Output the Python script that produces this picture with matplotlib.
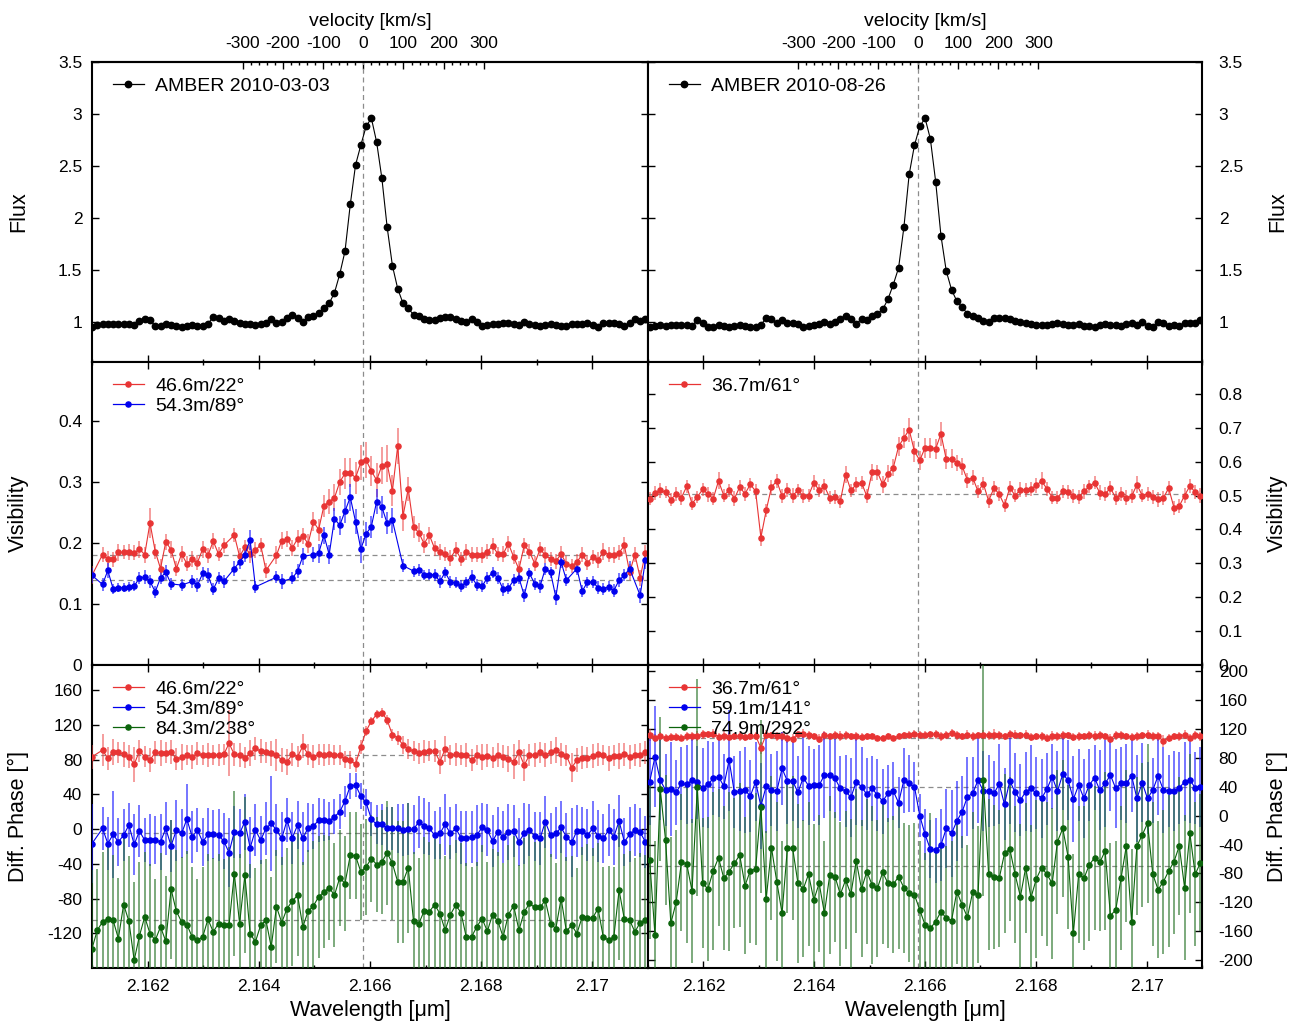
import numpy as np
import matplotlib
matplotlib.use('Agg')
import matplotlib.pyplot as plt
from matplotlib.ticker import FixedLocator, MultipleLocator, FormatStrFormatter
from matplotlib.lines import Line2D

plt.rcParams['font.family'] = ['Liberation Sans', 'DejaVu Sans']
plt.rcParams['axes.unicode_minus'] = False

# spectral channels (micron) for the two epochs
lam_a = 2.16100 + 0.0000948 * np.arange(106)
lam_b = 2.16103 + 0.0000956 * np.arange(105)
lam0 = 2.16588          # Br gamma rest wavelength used for the velocity scale
c_kms = 299792.458

# ---- 2010-03-03 ----
flux_a = [0.95, 0.97, 0.98, 0.98, 0.98, 0.98, 0.98, 0.98, 0.97, 1.01,
          1.03, 1.02, 0.96, 0.96, 0.98, 0.97, 0.96, 0.95, 0.96, 0.97,
          0.96, 0.96, 0.98, 1.05, 1.04, 1.01, 1.03, 1.01, 0.99, 0.98,
          0.98, 0.97, 0.98, 0.99, 1.03, 0.99, 1.00, 1.04, 1.07, 1.04,
          1.00, 1.05, 1.06, 1.09, 1.13, 1.18, 1.28, 1.46, 1.68, 2.13,
          2.51, 2.70, 2.88, 2.96, 2.73, 2.38, 1.91, 1.54, 1.32, 1.18,
          1.13, 1.07, 1.06, 1.03, 1.02, 1.02, 1.04, 1.05, 1.05, 1.03,
          1.01, 1.00, 1.03, 1.00, 0.96, 0.97, 0.98, 0.98, 0.99, 0.99,
          0.98, 0.97, 1.00, 0.98, 0.97, 0.96, 0.97, 0.98, 0.97, 0.96,
          0.96, 0.98, 0.98, 0.98, 0.99, 0.97, 0.95, 0.99, 0.99, 0.99,
          0.98, 0.96, 0.99, 1.03, 1.01, 1.03]

vis_a1 = [0.147, None, 0.181, 0.174, 0.173, 0.185, 0.185, 0.185, 0.184, 0.190,
          0.181, 0.233, 0.186, 0.158, 0.202, 0.189, 0.158, 0.182, 0.166, 0.174,
          0.168, 0.190, 0.180, 0.203, 0.182, 0.196, None, 0.213, 0.178, 0.193,
          0.182, 0.188, 0.197, 0.155, None, 0.180, 0.204, 0.207, 0.192, 0.207,
          0.211, 0.199, 0.235, 0.222, 0.261, 0.268, 0.274, 0.300, 0.314, 0.315,
          0.307, 0.332, 0.336, 0.318, 0.303, 0.327, 0.330, 0.286, 0.359, 0.244,
          0.289, 0.226, 0.217, 0.199, 0.213, 0.191, 0.185, 0.182, 0.175, 0.189,
          0.174, 0.185, 0.181, 0.181, 0.181, 0.186, 0.195, 0.182, 0.182, 0.199,
          0.177, 0.157, 0.196, 0.186, 0.166, 0.190, 0.180, 0.174, 0.170, 0.182,
          0.166, 0.162, 0.169, 0.181, 0.168, 0.177, 0.172, 0.186, 0.181, 0.181,
          0.184, 0.196, 0.152, 0.181, 0.143, 0.184]
vis_a1_err = [0.015, 0.012, 0.012, 0.013, 0.012, 0.014, 0.012, 0.013, 0.012, 0.014,
              0.013, 0.025, 0.012, 0.015, 0.013, 0.014, 0.012, 0.013, 0.012, 0.013,
              0.012, 0.014, 0.012, 0.013, 0.012, 0.012, 0.012, 0.012, 0.013, 0.012,
              0.014, 0.013, 0.012, 0.013, 0.012, 0.015, 0.014, 0.013, 0.013, 0.014,
              0.013, 0.015, 0.016, 0.018, 0.018, 0.020, 0.022, 0.022, 0.025, 0.024,
              0.026, 0.028, 0.030, 0.025, 0.028, 0.030, 0.030, 0.025, 0.030, 0.025,
              0.020, 0.018, 0.016, 0.015, 0.014, 0.013, 0.013, 0.012, 0.013, 0.012,
              0.012, 0.013, 0.012, 0.012, 0.013, 0.012, 0.013, 0.012, 0.013, 0.013,
              0.012, 0.013, 0.012, 0.013, 0.012, 0.012, 0.013, 0.012, 0.012, 0.013,
              0.012, 0.012, 0.013, 0.012, 0.013, 0.012, 0.013, 0.014, 0.012, 0.013,
              0.012, 0.014, 0.013, 0.012, 0.013, 0.012]

vis_a2 = [0.147, None, 0.132, 0.155, 0.125, 0.127, 0.127, 0.128, 0.129, 0.143,
          0.144, 0.137, 0.120, 0.143, 0.152, 0.133, None, 0.131, None, 0.137,
          0.131, 0.150, 0.147, 0.124, 0.142, 0.137, None, 0.158, 0.169, 0.181,
          0.205, 0.128, None, None, None, 0.144, 0.137, None, 0.142, 0.154,
          0.178, None, 0.181, 0.183, 0.213, 0.181, 0.240, 0.229, 0.252, 0.275,
          0.235, 0.190, 0.215, 0.227, 0.268, 0.259, 0.232, 0.237, None, 0.163,
          None, 0.154, 0.156, 0.148, 0.148, 0.148, 0.137, 0.152, 0.136, 0.135,
          0.129, 0.136, 0.145, 0.131, 0.129, 0.143, 0.151, 0.143, 0.124, 0.126,
          0.139, 0.143, 0.114, 0.150, 0.133, 0.129, 0.158, 0.152, 0.111, 0.169,
          0.139, None, 0.158, 0.121, 0.136, 0.136, 0.127, 0.125, 0.128, 0.122,
          0.139, 0.147, 0.158, None, 0.114, 0.172]
vis_a2_err = [0.012, 0.010, 0.010, 0.012, 0.008, 0.008, 0.008, 0.008, 0.008, 0.010,
              0.012, 0.010, 0.010, 0.010, 0.012, 0.010, 0.010, 0.010, 0.010, 0.010,
              0.012, 0.010, 0.012, 0.010, 0.010, 0.010, 0.010, 0.012, 0.012, 0.012,
              0.017, 0.010, 0.010, 0.010, 0.010, 0.010, 0.012, 0.010, 0.010, 0.012,
              0.014, 0.012, 0.012, 0.015, 0.014, 0.015, 0.018, 0.016, 0.020, 0.022,
              0.020, 0.022, 0.020, 0.018, 0.020, 0.018, 0.018, 0.020, 0.010, 0.010,
              0.010, 0.009, 0.010, 0.008, 0.009, 0.010, 0.011, 0.009, 0.010, 0.009,
              0.010, 0.009, 0.011, 0.010, 0.009, 0.010, 0.009, 0.010, 0.011, 0.009,
              0.010, 0.011, 0.010, 0.009, 0.010, 0.011, 0.010, 0.009, 0.012, 0.010,
              0.010, 0.009, 0.011, 0.010, 0.009, 0.010, 0.011, 0.010, 0.009, 0.010,
              0.011, 0.010, 0.012, 0.010, 0.012, 0.014]

dp_a1 = [83.3, None, 91.0, 81.4, 89.1, 88.3, 86.0, 83.3, 74.5, 89.9,
         83.3, 79.5, 88.3, 87.2, 87.9, 89.1, 80.6, 82.6, 85.3, 83.3,
         87.2, 85.3, 85.3, 85.3, 85.3, 86.0, 98.7, 86.0, 85.3, 82.2,
         87.2, 92.9, 89.9, 88.3, 87.2, 85.3, 79.5, 77.6, 86.0, 83.3,
         95.6, 86.0, 83.3, 86.0, 85.3, 86.0, 85.3, 85.3, 80.3, 79.5,
         74.5, 94.9, 112.9, 124.4, 132.1, 134.1, 125.6, 108.3, 105.2, 96.8,
         92.2, 89.9, 87.2, 89.1, 89.9, 89.9, 77.6, 92.2, 85.3, 86.0,
         85.3, 85.3, 79.5, 85.3, 83.3, 84.5, 82.2, 85.3, 83.3, 80.3,
         77.6, 88.3, 73.7, 85.3, 85.3, 88.3, 85.3, 88.3, 91.0, 86.0,
         84.5, 70.7, 79.5, 82.2, 82.2, 84.5, 86.0, 85.3, 81.4, 84.5,
         84.5, 86.0, 83.3, 85.3, 85.3, 88.3]
dp_a1_err = [14, 12, 18, 13, 15, 12, 14, 13, 20, 13,
             12, 14, 13, 15, 12, 14, 13, 15, 12, 14,
             13, 12, 14, 12, 13, 12, 38, 13, 14, 12,
             15, 13, 14, 12, 14, 18, 14, 15, 13, 12,
             14, 12, 13, 12, 13, 12, 12, 11, 10, 10,
             9, 8, 6, 5, 5, 5, 6, 7, 8, 10,
             11, 12, 12, 13, 12, 13, 14, 15, 12, 13,
             12, 14, 13, 12, 15, 13, 12, 14, 13, 15,
             20, 14, 18, 13, 14, 12, 14, 13, 15, 13,
             12, 17, 14, 13, 12, 14, 13, 12, 14, 12,
             15, 13, 14, 13, 14, 13]

dp_a2 = [-16.6, None, 0.7, -16.6, -6.2, -14.7, -7.0, 4.6, -17.7, -2.4,
         -12.7, -12.7, -12.7, -14.7, 0.7, -19.3, -1.2, -5.0, 11.5, -8.9,
         -1.2, -14.7, -6.2, -6.2, -7.0, -13.9, -27.0, -3.1, -5.0, 8.4,
         -21.6, -1.2, -12.7, 0.7, 6.5, -1.2, -10.8, 10.3, -10.0, 4.6,
         -10.8, 1.5, 3.4, 10.3, 10.3, 9.2, 14.2, 19.9, 32.2, 49.9,
         50.7, 38.0, 30.7, 11.5, 5.3, 5.3, 0.7, 0.7, 0.7, -1.2,
         -0.4, -0.4, 8.4, 3.4, 0.7, -7.0, -5.0, 5.3, -5.0, 0.7,
         -9.7, -10.8, -8.9, -7.0, 1.9, -1.2, -13.9, -3.1, -8.9, -3.1,
         -2.4, -14.7, -5.0, -1.2, -8.2, -10.8, 8.4, -7.0, -5.0, 1.9,
         -8.9, -15.4, -2.0, -2.0, -7.0, 0.7, -7.7, -10.8, -1.2, -8.9,
         9.2, -14.7, -6.2, -1.2, -3.9, -14.7]
dp_a2_err = [45, 30, 25, 30, 50, 28, 30, 25, 35, 30,
             25, 30, 28, 32, 30, 30, 35, 28, 40, 30,
             25, 28, 30, 28, 30, 32, 40, 30, 28, 32,
             35, 30, 28, 30, 55, 30, 30, 25, 30, 28,
             30, 28, 26, 25, 24, 22, 20, 20, 18, 15,
             14, 15, 16, 20, 22, 24, 25, 25, 28, 30,
             30, 28, 30, 32, 30, 28, 30, 35, 30, 28,
             30, 32, 30, 35, 28, 30, 30, 28, 30, 32,
             30, 28, 35, 30, 28, 30, 30, 25, 30, 30,
             28, 40, 30, 28, 30, 32, 30, 28, 30, 32,
             30, 28, 32, 30, 28, 30]

dp_a3 = [-137.6, -116.5, -106.9, -103.0, -104.9, -126.1, -86.9, -106.1, -151.1, -123.0,
         -101.1, -120.3, -128.0, -112.6, -129.2, -69.2, -94.6, -106.9, -110.0, -124.2,
         -128.0, -124.2, -103.8, -118.4, -108.8, -110.0, -110.7, -51.2, -108.8, -53.1,
         -120.3, -129.9, -110.7, -104.9, -135.7, -89.6, -107.6, -91.5, -83.0, -76.1,
         -112.6, -94.6, -88.4, -78.1, -72.3, -67.7, -76.1, -56.1, -62.7, -30.0,
         -30.8, -49.2, -43.5, -33.9, -40.8, -37.7, -27.3, -39.6, -60.8, -60.8,
         -44.6, -106.1, -108.8, -94.6, -95.3, -86.9, -97.3, -116.5, -98.4, -87.7,
         -96.1, -124.2, -124.2, -112.6, -103.0, -117.6, -98.4, -106.1, -124.2, -98.4,
         -88.4, -116.5, -95.3, -85.7, -90.3, -90.3, -81.9, -108.8, -114.6, -80.0,
         -117.6, -110.7, -120.3, -101.1, -102.3, -102.3, -91.5, -124.2, -128.0, -124.2,
         -70.4, -103.8, -104.9, -118.4, -107.6, -105.0]
dp_a3_err = [90, 70, 80, 85, 75, 70, 80, 75, 90, 85,
             75, 80, 70, 85, 75, 80, 70, 75, 85, 80,
             70, 80, 75, 85, 80, 75, 90, 95, 80, 90,
             80, 85, 75, 70, 80, 65, 75, 70, 75, 70,
             75, 70, 75, 70, 65, 60, 60, 55, 55, 50,
             50, 55, 55, 50, 55, 60, 60, 65, 70, 70,
             75, 80, 75, 85, 80, 75, 80, 85, 80, 75,
             80, 85, 80, 75, 85, 80, 75, 80, 85, 80,
             80, 75, 85, 80, 75, 80, 85, 80, 75, 80,
             85, 80, 75, 80, 85, 80, 75, 80, 85, 80,
             80, 75, 80, 85, 80, 75]

# ---- 2010-08-26 ----
flux_b = [0.95, 0.96, 0.97, 0.96, 0.97, 0.97, 0.97, 0.97, 0.96, 1.02,
          0.99, 0.95, 0.95, 0.97, 0.96, 0.95, 0.96, 0.97, 0.96, 0.95,
          0.95, 0.97, 1.04, 1.03, 0.99, 1.02, 0.99, 0.99, 0.98, 0.95,
          0.96, 0.97, 0.98, 1.00, 0.98, 1.00, 1.03, 1.06, 1.03, 0.98,
          1.03, 1.02, 1.06, 1.08, 1.12, 1.22, 1.36, 1.52, 1.91, 2.42,
          2.70, 2.88, 2.96, 2.76, 2.35, 1.83, 1.49, 1.31, 1.20, 1.14,
          1.08, 1.06, 1.04, 1.01, 1.00, 1.04, 1.04, 1.04, 1.03, 1.01,
          1.00, 0.99, 0.98, 0.97, 0.97, 0.97, 0.98, 0.99, 0.98, 0.97,
          0.97, 0.98, 0.96, 0.96, 0.95, 0.97, 0.98, 0.97, 0.97, 0.96,
          0.98, 0.99, 0.97, 1.00, 0.96, 0.95, 1.00, 0.99, 0.96, 0.97,
          0.96, 0.99, 0.99, 0.99, 1.02]

vis_b1 = [0.491, 0.507, 0.515, 0.510, 0.488, 0.505, 0.494, 0.527, 0.476, 0.496,
          0.518, 0.504, 0.491, 0.543, 0.500, 0.515, 0.491, 0.525, 0.505, 0.533,
          0.513, 0.376, 0.456, 0.525, 0.543, 0.498, 0.517, 0.500, 0.515, 0.499,
          0.500, 0.538, 0.515, 0.527, 0.494, 0.496, 0.483, 0.562, 0.515, 0.533,
          0.538, 0.498, 0.569, 0.569, 0.533, 0.564, 0.582, 0.645, 0.670, 0.694,
          0.630, 0.604, 0.641, 0.641, 0.638, 0.682, 0.607, 0.609, 0.596, 0.587,
          0.545, 0.553, 0.512, 0.535, 0.484, 0.522, 0.504, 0.471, 0.523, 0.500,
          0.517, 0.517, 0.520, 0.530, 0.543, 0.520, 0.494, 0.494, 0.512, 0.510,
          0.499, 0.496, 0.512, 0.527, 0.538, 0.508, 0.505, 0.522, 0.493, 0.504,
          0.493, 0.498, 0.532, 0.500, 0.505, 0.496, 0.489, 0.493, 0.522, 0.464,
          0.469, 0.500, 0.528, 0.510, 0.500]
vis_b1_err = [0.020, 0.020, 0.022, 0.018, 0.020, 0.020, 0.022, 0.020, 0.020, 0.018,
              0.020, 0.022, 0.020, 0.025, 0.020, 0.020, 0.022, 0.020, 0.020, 0.020,
              0.022, 0.025, 0.020, 0.022, 0.020, 0.020, 0.020, 0.022, 0.020, 0.020,
              0.020, 0.022, 0.020, 0.022, 0.020, 0.020, 0.020, 0.025, 0.020, 0.022,
              0.020, 0.020, 0.025, 0.022, 0.025, 0.025, 0.025, 0.028, 0.030, 0.035,
              0.030, 0.028, 0.030, 0.030, 0.030, 0.035, 0.030, 0.028, 0.025, 0.025,
              0.022, 0.022, 0.020, 0.020, 0.022, 0.020, 0.020, 0.020, 0.020, 0.020,
              0.022, 0.020, 0.020, 0.022, 0.025, 0.020, 0.020, 0.018, 0.020, 0.020,
              0.020, 0.020, 0.022, 0.020, 0.020, 0.022, 0.020, 0.020, 0.020, 0.020,
              0.022, 0.020, 0.025, 0.020, 0.020, 0.020, 0.022, 0.020, 0.020, 0.020,
              0.020, 0.022, 0.020, 0.020, 0.022]

dp_b1 = [111.7, 108.0, 110.3, 108.0, 109.4, 109.4, 108.0, 110.3, 110.3, 110.8,
         113.1, 113.1, 114.0, 109.4, 110.3, 109.4, 110.3, 110.3, 109.4, 110.3,
         110.8, 94.2, 112.6, 111.7, 110.3, 110.3, 108.0, 107.1, 113.1, 114.0,
         111.7, 110.3, 107.1, 111.7, 110.3, 111.7, 110.3, 111.7, 110.3, 110.3,
         109.4, 110.3, 110.3, 108.0, 108.0, 110.3, 108.0, 110.3, 111.7, 112.6,
         114.0, 112.6, 112.6, 113.1, 113.1, 110.3, 112.6, 114.9, 111.7, 110.3,
         112.6, 110.3, 111.7, 112.6, 111.7, 112.6, 111.7, 110.3, 113.1, 112.6,
         111.7, 112.6, 109.4, 110.3, 110.3, 108.0, 110.3, 110.3, 111.7, 111.7,
         109.4, 110.3, 110.3, 111.7, 110.3, 111.7, 110.3, 107.1, 111.7, 111.7,
         110.3, 109.4, 110.3, 111.7, 112.6, 110.3, 110.3, 103.4, 108.0, 110.3,
         110.3, 112.6, 108.0, 111.7, 110.0]
dp_b1_err = [8, 6, 6, 5, 6, 6, 5, 6, 6, 7,
             6, 5, 6, 6, 7, 6, 5, 6, 6, 5,
             6, 8, 6, 5, 6, 6, 7, 6, 5, 6,
             6, 5, 6, 6, 5, 6, 7, 6, 5, 6,
             5, 5, 4, 4, 4, 4, 4, 4, 4, 5,
             5, 5, 5, 5, 6, 6, 5, 6, 6, 5,
             6, 6, 5, 6, 6, 7, 6, 5, 6, 6,
             5, 6, 6, 5, 6, 6, 7, 6, 6, 5,
             6, 6, 5, 6, 7, 6, 5, 6, 6, 6,
             5, 6, 6, 5, 6, 6, 6, 8, 6, 5,
             6, 6, 5, 6, 6]

dp_b2 = [47.1, 81.7, 49.4, 35.6, 37.0, 32.4, 44.8, 43.4, 49.4, 46.2,
         38.8, 43.4, 51.7, 54.0, 41.1, 77.1, 32.4, 34.2, 35.6, 27.3,
         47.1, 13.4, 41.1, 35.6, 34.2, 65.6, 48.1, 48.1, 32.4, 52.7,
         41.6, 42.5, 42.5, 56.4, 56.4, 51.7, 37.9, 34.2, 25.4, 47.1,
         40.2, 29.6, 37.9, 28.7, 20.4, 31.0, 34.2, 18.1, 49.4, 44.8,
         40.2, 0.1, -25.8, -46.5, -47.5, -40.5, -17.5, -24.4, -7.3, 5.6,
         26.4, 31.0, 49.4, 34.2, 34.2, 31.0, 43.9, 15.8, 48.5, 32.4,
         21.7, 33.3, 37.9, 31.0, 24.1, 37.0, 54.0, 34.2, 57.7, 49.4,
         23.1, 42.5, 24.1, 42.5, 52.7, 35.6, 44.8, 56.4, 37.9, 44.8,
         44.8, 55.4, 24.1, 45.7, 24.1, 35.6, 55.4, 35.6, 34.2, 34.2,
         38.8, 47.1, 49.4, 38.8, 40.0]
dp_b2_err = [60, 70, 55, 50, 65, 45, 50, 55, 60, 50,
             55, 60, 50, 55, 45, 70, 50, 55, 60, 50,
             55, 60, 65, 50, 55, 50, 60, 55, 50, 60,
             55, 50, 55, 60, 50, 55, 45, 50, 55, 60,
             55, 50, 45, 50, 45, 40, 40, 35, 45, 40,
             35, 30, 35, 40, 45, 50, 55, 60, 55, 50,
             55, 50, 60, 55, 50, 45, 55, 50, 60, 55,
             50, 55, 60, 50, 55, 50, 45, 55, 50, 55,
             60, 50, 55, 50, 45, 55, 60, 50, 55, 50,
             55, 50, 60, 55, 50, 45, 55, 60, 50, 55,
             50, 55, 60, 50, 55]

dp_b3 = [-61.3, -165.1, 37.0, -33.6, -149.0, -119.9, -64.5, -66.8, -104.2, 39.3,
         -93.6, -101.4, -76.5, -58.1, -86.7, -77.4, -65.9, -54.4, -96.8, -76.1,
         -73.8, 12.5, -115.7, -44.2, -91.3, -135.1, -45.1, -45.1, -93.6, -101.4,
         -81.1, -116.7, -93.6, -135.1, -82.1, -84.4, -108.8, -89.0, -108.8, -62.7,
         -101.4, -77.4, -95.9, -100.5, -78.4, -93.6, -95.0, -84.4, -99.6, -107.4,
         -109.7, -130.5, -151.3, -155.9, -146.6, -132.8, -142.0, -145.3, -105.1, -123.6,
         -140.7, -105.1, -109.7, 49.4, -81.1, -84.4, -86.7, -52.1, -46.1, -81.1,
         -112.0, -71.9, -113.4, -87.6, -71.9, -81.1, -93.6, -35.9, -17.5, -56.7,
         -162.8, -81.1, -86.7, -68.2, -58.1, -64.5, -48.8, -138.3, -130.5, -86.7,
         -41.9, -146.6, -41.9, -26.7, -10.5, -81.1, -102.3, -91.3, -76.5, -63.6,
         -41.9, -99.6, -24.4, -81.1, -65.0]
dp_b3_err = [110, 130, 100, 90, 120, 100, 95, 110, 100, 150,
             90, 100, 110, 95, 100, 110, 90, 100, 95, 100,
             105, 120, 95, 100, 110, 100, 90, 100, 110, 95,
             100, 105, 95, 100, 110, 90, 100, 95, 105, 100,
             95, 100, 110, 95, 100, 90, 95, 100, 90, 95,
             100, 95, 100, 160, 100, 95, 100, 110, 100, 95,
             100, 110, 95, 160, 105, 100, 95, 110, 100, 95,
             100, 90, 100, 110, 95, 100, 105, 100, 95, 100,
             110, 95, 100, 105, 100, 95, 110, 100, 95, 100,
             105, 100, 95, 100, 110, 100, 95, 100, 105, 100,
             95, 100, 110, 100, 95]

# continuum reference levels (dashed)
ref_vis_a = [0.18, 0.14]
ref_vis_b = [0.505]
ref_dp_a = [85, -5, -105]
ref_dp_b = [108, 40, -70]

labels_a = ['46.6m/22\u00b0', '54.3m/89\u00b0', '84.3m/238\u00b0']
labels_b = ['36.7m/61\u00b0', '59.1m/141\u00b0', '74.9m/292\u00b0']

RED, RED_E = '#e83434', (0.93, 0.25, 0.25, 0.6)
BLUE, BLUE_E = '#0000ee', (0.1, 0.1, 1.0, 0.7)
GREEN, GREEN_E = '#0b640b', (0.15, 0.45, 0.15, 0.7)
DASH = dict(color='0.55', ls=(0, (4, 3)), lw=0.9, zorder=1)

W, H = 1296, 1024
fig = plt.figure(figsize=(W / 100, H / 100), dpi=100)


def box(x0, y0, x1, y1):
    return [x0 / W, 1 - y1 / H, (x1 - x0) / W, (y1 - y0) / H]


def style(ax, side, top=True, xlabels=False):
    ax.set_xlim(2.161, 2.171)
    ax.xaxis.set_major_locator(MultipleLocator(0.002))
    ax.xaxis.set_minor_locator(MultipleLocator(0.001))
    ax.xaxis.set_major_formatter(FormatStrFormatter('%g'))
    ax.yaxis.set_major_formatter(FormatStrFormatter('%g'))
    ax.tick_params(which='both', direction='in', top=top, bottom=True,
                   left=True, right=True, labelbottom=xlabels,
                   labelleft=(side == 'left'), labelright=(side == 'right'),
                   labelsize=12.5, width=1.0)
    ax.tick_params(which='major', length=5)
    ax.tick_params(which='minor', length=2.5)
    ax.tick_params(axis='y', which='both', pad=12 if side == 'right' else 7)
    ax.tick_params(axis='x', which='both', pad=8)
    for sp in ax.spines.values():
        sp.set_linewidth(1.5)
    if side == 'right':
        ax.yaxis.set_label_position('right')


def ylab(ax, text, side):
    ax.set_ylabel(text, fontsize=15.5)
    if side == 'left':
        ax.yaxis.set_label_coords(-0.113, 0.5)
    else:
        ax.yaxis.set_label_coords(1.118, 0.5)


def series(ax, lam, vals, errs, color, ecolor):
    y = np.array(vals, dtype=float)
    e = np.array(errs, dtype=float)
    ok = ~np.isnan(y)
    ax.errorbar(lam[ok], y[ok], yerr=e[ok], fmt='o-', color=color, ms=3.7,
                lw=0.8, ecolor=ecolor, elinewidth=1.2, capsize=0, zorder=3)


def legend(ax, labels, colors, ms):
    handles = [Line2D([], [], color=c, marker='o', ms=ms, lw=0.9) for c in colors]
    ax.legend(handles, labels, loc='upper left', bbox_to_anchor=(0.009, 1.0),
              frameon=False, fontsize=14, handlelength=1.6, handletextpad=0.6,
              labelspacing=0.12, borderaxespad=0.4, borderpad=0.4)


def to_vel(lam):
    return (lam - lam0) / lam0 * c_kms


def to_lam(v):
    return lam0 * (1 + v / c_kms)


cols = [(92, 648, 'left', lam_a), (648, 1202, 'right', lam_b)]

for x0, x1, side, lam in cols:
    first = side == 'left'

    # flux
    ax = fig.add_axes(box(x0, 62, x1, 362))
    style(ax, side, top=False)
    ax.set_ylim(0.615, 3.5)
    ax.set_yticks([1, 1.5, 2, 2.5, 3, 3.5])
    ax.axvline(lam0, **DASH)
    ax.plot(lam, flux_a if first else flux_b, 'o-', color='k', ms=4.6, lw=0.8, zorder=3)
    legend(ax, ['AMBER 2010-03-03' if first else 'AMBER 2010-08-26'], ['k'], 4.6)
    ylab(ax, 'Flux', side)
    sec = ax.secondary_xaxis('top', functions=(to_vel, to_lam))
    sec.xaxis.set_major_locator(FixedLocator(np.arange(-300, 301, 100)))
    sec.xaxis.set_minor_locator(FixedLocator(np.arange(-300, 301, 20)))
    sec.tick_params(which='both', direction='in', labelsize=12.5, pad=8, width=1.0)
    sec.tick_params(which='major', length=5)
    sec.tick_params(which='minor', length=2.5)
    sec.spines['top'].set_linewidth(1.5)
    sec.set_xlabel('velocity [km/s]', fontsize=14, labelpad=7)

    # visibility
    ax = fig.add_axes(box(x0, 362, x1, 665))
    style(ax, side)
    ax.axvline(lam0, **DASH)
    if first:
        ax.set_ylim(0, 0.4967)
        ax.set_yticks([0, 0.1, 0.2, 0.3, 0.4])
        for r in ref_vis_a:
            ax.axhline(r, **DASH)
        series(ax, lam, vis_a1, vis_a1_err, RED, RED_E)
        series(ax, lam, vis_a2, vis_a2_err, BLUE, BLUE_E)
        legend(ax, labels_a[:2], [RED, BLUE], 3.7)
    else:
        ax.set_ylim(0, 0.894)
        ax.set_yticks(np.arange(0, 0.81, 0.1))
        for r in ref_vis_b:
            ax.axhline(r, **DASH)
        series(ax, lam, vis_b1, vis_b1_err, RED, RED_E)
        legend(ax, labels_b[:1], [RED], 3.7)
    ylab(ax, 'Visibility', side)

    # differential phase
    ax = fig.add_axes(box(x0, 665, x1, 968))
    style(ax, side, xlabels=True)
    ax.axvline(lam0, **DASH)
    if first:
        ax.set_ylim(-160, 189)
        ax.set_yticks(np.arange(-120, 161, 40))
        refs, data, labels = ref_dp_a, [(dp_a1, dp_a1_err), (dp_a2, dp_a2_err), (dp_a3, dp_a3_err)], labels_a
    else:
        ax.set_ylim(-211, 209)
        ax.set_yticks(np.arange(-200, 201, 40))
        refs, data, labels = ref_dp_b, [(dp_b1, dp_b1_err), (dp_b2, dp_b2_err), (dp_b3, dp_b3_err)], labels_b
    for r in refs:
        ax.axhline(r, **DASH)
    for (v, e), c, ec in zip(data, [RED, BLUE, GREEN], [RED_E, BLUE_E, GREEN_E]):
        series(ax, lam, v, e, c, ec)
    legend(ax, labels, [RED, BLUE, GREEN], 3.7)
    ylab(ax, 'Diff. Phase [\u00b0]', side)
    ax.set_xlabel('Wavelength [\u03bcm]', fontsize=15.5)
    ax.xaxis.set_label_coords(0.5, -0.105)

fig.savefig('out.png', dpi=100)
